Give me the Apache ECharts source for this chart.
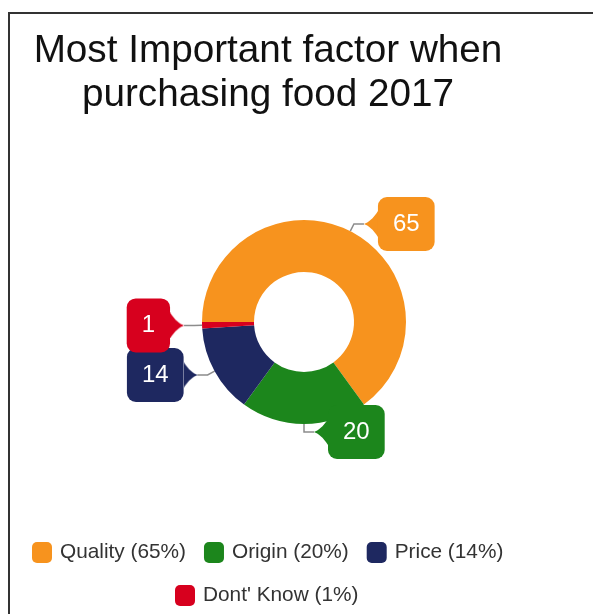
<!DOCTYPE html>
<html>
<head>
<meta charset="utf-8">
<script src="https://cdn.jsdelivr.net/npm/echarts@6/dist/echarts.min.js"></script>
<style>
  html, body { margin: 0; padding: 0; background: #fff; }
  #chart { width: 593px; height: 614px; }
</style>
</head>
<body>
<div id="chart"></div>
<script>
// Survey: most important factor when purchasing food (2017), shares in percent
const titleText = 'Most Important factor when\npurchasing food 2017';
const categories = ['Quality', 'Origin', 'Price', "Dont' Know"];
const shares = [65, 20, 14, 1];
const palette = ['#F7931E', '#1C861C', '#1E2860', '#D7001E'];

const FONT = '"Liberation Sans", Arial, Helvetica, sans-serif';

// Small tapered tab drawn on a canvas; used as the pointer of each callout label
function pointerImage(color, pointLeft) {
  const w = 14, h = 26;
  const c = document.createElement('canvas');
  c.width = w;
  c.height = h;
  const ctx = c.getContext('2d');
  ctx.fillStyle = color;
  ctx.beginPath();
  if (pointLeft) {
    ctx.moveTo(w, 0);
    ctx.bezierCurveTo(w * 0.65, h * 0.3, w * 0.3, h * 0.44, 0, h / 2);
    ctx.bezierCurveTo(w * 0.3, h * 0.56, w * 0.65, h * 0.7, w, h);
  } else {
    ctx.moveTo(0, 0);
    ctx.bezierCurveTo(w * 0.35, h * 0.3, w * 0.7, h * 0.44, w, h / 2);
    ctx.bezierCurveTo(w * 0.7, h * 0.56, w * 0.35, h * 0.7, 0, h);
  }
  ctx.closePath();
  ctx.fill();
  return c;
}

const total = shares.reduce((a, b) => a + b, 0);
let acc = 0;
const pieData = categories.map((name, i) => {
  // slices run clockwise from 9 o'clock; the callout sits on the side of the slice's middle
  const mid = -Math.PI + 2 * Math.PI * (acc + shares[i] / 2) / total;
  acc += shares[i];
  const onLeft = Math.cos(mid) < 0;
  return {
    name: name,
    value: shares[i],
    itemStyle: { color: palette[i] },
    label: {
      formatter: onLeft ? '{b|{c}}{p|}' : '{p|}{b|{c}}',
      rich: {
        b: {
          backgroundColor: palette[i],
          borderRadius: 9,
          color: '#ffffff',
          fontSize: 24,
          fontFamily: FONT,
          height: 54,
          lineHeight: 54,
          padding: [0, 15]
        },
        p: {
          width: 14,
          height: 26,
          backgroundColor: { image: pointerImage(palette[i], !onLeft) }
        }
      }
    }
  };
});

const legendCommon = {
  orient: 'horizontal',
  padding: 0,
  itemWidth: 20,
  itemHeight: 21,
  itemGap: 18,
  icon: 'roundRect',
  selectedMode: false,
  textStyle: { fontSize: 20.8, color: '#333', fontFamily: FONT, padding: [0, 0, 0, 3] },
  formatter: function (name) {
    return name + ' (' + shares[categories.indexOf(name)] + '%)';
  }
};

const chart = echarts.init(document.getElementById('chart'), null, { renderer: 'canvas' });
chart.setOption({
  animation: false,
  backgroundColor: '#ffffff',
  title: {
    text: titleText,
    left: 268,
    top: 29,
    padding: 0,
    textAlign: 'center',
    textStyle: {
      fontSize: 38.7,
      lineHeight: 44,
      fontWeight: 'normal',
      color: '#111',
      fontFamily: FONT
    }
  },
  legend: [
    Object.assign({}, legendCommon, { data: categories.slice(0, 3), left: 32, top: 542 }),
    Object.assign({}, legendCommon, { data: categories.slice(3), left: 175, top: 585 })
  ],
  graphic: [{
    type: 'rect',
    silent: true,
    shape: { x: 9, y: 13, width: 1200, height: 1200 },
    style: { fill: 'none', stroke: '#333', lineWidth: 2 }
  }],
  series: [{
    type: 'pie',
    center: [304, 322],
    radius: [50, 102],
    startAngle: 180,
    clockwise: true,
    avoidLabelOverlap: false,
    labelLayout: { hideOverlap: false },
    itemStyle: { borderWidth: 0, borderRadius: 0 },
    emphasis: { disabled: true },
    label: { show: true, position: 'outside', distanceToLabelLine: 0 },
    labelLine: {
      show: true,
      length: 8,
      length2: 10,
      smooth: false,
      lineStyle: { color: '#8c8c8c', width: 1.5 }
    },
    data: pieData
  }]
});
</script>
</body>
</html>
